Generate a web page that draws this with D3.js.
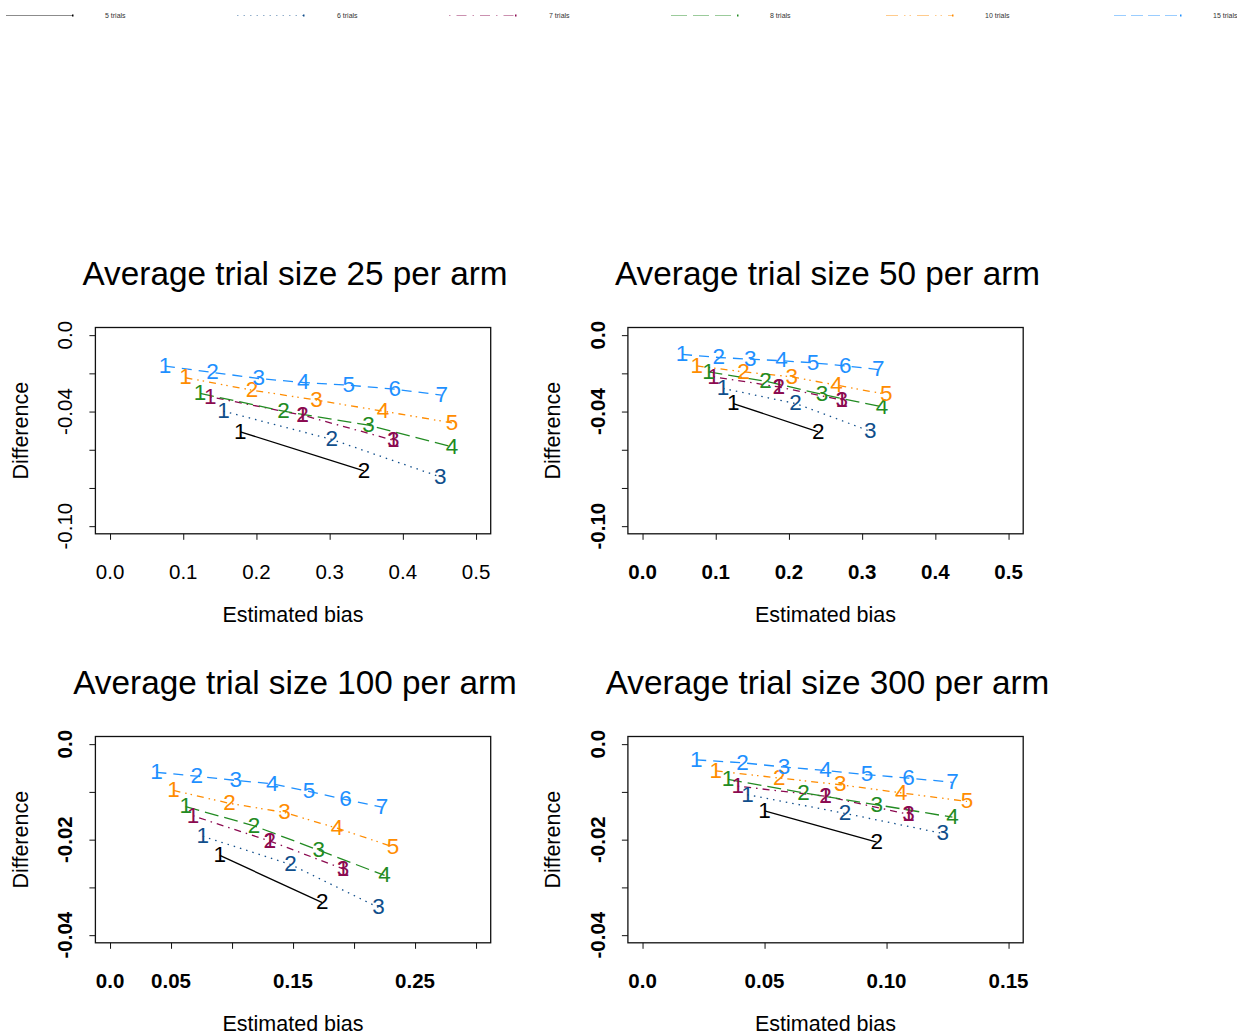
<!DOCTYPE html>
<html><head><meta charset="utf-8">
<script src="https://cdn.jsdelivr.net/npm/d3@7"></script>
<style>body{margin:0;background:#fff}svg{display:block}</style>
</head><body>
<svg id="chart" width="1237" height="1033"></svg>
<script>
// ---------- DATA ----------
const seriesNames = ["5 trials","6 trials","7 trials","8 trials","10 trials","15 trials"];
const panelTitles = ["Average trial size 25 per arm","Average trial size 50 per arm","Average trial size 100 per arm","Average trial size 300 per arm"];

// Estimated bias (x) and Difference (y) per series, per panel
const bias25 = [
  [0.178, 0.347],
  [0.155, 0.303, 0.451],
  [0.137, 0.263, 0.387],
  [0.123, 0.237, 0.353, 0.467],
  [0.103, 0.194, 0.282, 0.373, 0.467],
  [0.075, 0.140, 0.203, 0.264, 0.326, 0.389, 0.453]
];
const diff25 = [
  [-0.0506, -0.0710],
  [-0.0398, -0.0546, -0.0742],
  [-0.0323, -0.0419, -0.0550],
  [-0.0305, -0.0398, -0.0471, -0.0585],
  [-0.0223, -0.0288, -0.0340, -0.0398, -0.0459],
  [-0.0162, -0.0195, -0.0227, -0.0248, -0.0262, -0.0283, -0.0314]
];
const bias50 = [
  [0.124, 0.240],
  [0.110, 0.209, 0.311],
  [0.097, 0.186, 0.272],
  [0.090, 0.168, 0.245, 0.327],
  [0.074, 0.138, 0.204, 0.265, 0.333],
  [0.054, 0.104, 0.147, 0.190, 0.233, 0.277, 0.322]
];
const diff50 = [
  [-0.0358, -0.0506],
  [-0.0279, -0.0358, -0.0503],
  [-0.0218, -0.0271, -0.0340],
  [-0.0192, -0.0241, -0.0310, -0.0375],
  [-0.0161, -0.0192, -0.0218, -0.0262, -0.0310],
  [-0.0101, -0.0117, -0.0126, -0.0134, -0.0145, -0.0161, -0.0180]
];
const bias100 = [
  [0.090, 0.174],
  [0.076, 0.148, 0.220],
  [0.068, 0.131, 0.191],
  [0.062, 0.118, 0.171, 0.225],
  [0.052, 0.098, 0.143, 0.186, 0.232],
  [0.038, 0.071, 0.103, 0.133, 0.163, 0.193, 0.223]
];
const diff100 = [
  [-0.0233, -0.0332],
  [-0.0193, -0.0252, -0.0342],
  [-0.0150, -0.0203, -0.0261],
  [-0.0131, -0.0171, -0.0222, -0.0275],
  [-0.0097, -0.0124, -0.0143, -0.0176, -0.0215],
  [-0.0059, -0.0067, -0.0076, -0.0083, -0.0099, -0.0116, -0.0132]
];
const bias300 = [
  [0.050, 0.096],
  [0.043, 0.083, 0.123],
  [0.039, 0.075, 0.109],
  [0.035, 0.066, 0.096, 0.127],
  [0.030, 0.056, 0.081, 0.106, 0.133],
  [0.022, 0.041, 0.058, 0.075, 0.092, 0.109, 0.127]
];
const diff300 = [
  [-0.0140, -0.0205],
  [-0.0106, -0.0145, -0.0187],
  [-0.0088, -0.0109, -0.0147],
  [-0.0074, -0.0102, -0.0127, -0.0153],
  [-0.0056, -0.0071, -0.0085, -0.0102, -0.0120],
  [-0.0033, -0.0039, -0.0048, -0.0055, -0.0064, -0.0071, -0.0080]
];

// axis ticks
const xTicksA = [0, 0.1, 0.2, 0.3, 0.4, 0.5];
const xLabelsA = ["0.0","0.1","0.2","0.3","0.4","0.5"];
const xTicks100 = [0, 0.05, 0.10, 0.15, 0.20, 0.25, 0.30];
const xLabels100 = ["0.0","0.05","","0.15","","0.25",""];
const xTicks300 = [0, 0.05, 0.10, 0.15];
const xLabels300 = ["0.0","0.05","0.10","0.15"];
const yTicksA = [0, -0.02, -0.04, -0.06, -0.08, -0.10];
const yLabelsA = ["0.0","","-0.04","","","-0.10"];
const yTicksB = [0, -0.01, -0.02, -0.03, -0.04];
const yLabelsB = ["0.0","","-0.02","","-0.04"];

// ---------- STYLE ----------
const colors = ["#000000","#104E8B","#8B0A50","#228B22","#FF8C00","#1E90FF"];
const dashes = [null, "1.5,5", "1.5,5,7,5", "14,6", "7,5,1.5,4,1.5,5", "10,7"];
const legDashes = [null, "1.5,5", "1.5,6,10,6", "16,6", "12,6,1.5,4,1.5,6", "12,5"];
const FONT = "'Liberation Sans', Arial, Helvetica, sans-serif";

const svg = d3.select("#chart");

// ---------- LEGEND (top strip) ----------
const legLineX = [6, 237, 449, 671, 886, 1114];
const legTextX = [105, 337, 549, 770, 985, 1213];
const leg = svg.append("g");
seriesNames.forEach((name, i) => {
  leg.append("line").attr("x1", legLineX[i]).attr("x2", legLineX[i] + 67)
    .attr("y1", 15.5).attr("y2", 15.5)
    .attr("stroke", colors[i]).attr("stroke-opacity", 0.45).attr("stroke-width", 1)
    .attr("stroke-dasharray", legDashes[i]);
  leg.append("rect").attr("x", legLineX[i] + 66).attr("y", 14.5).attr("width", 1.5).attr("height", 2).attr("fill", colors[i]);
  leg.append("text").attr("x", legTextX[i]).attr("y", 18)
    .attr("font-family", FONT).attr("font-size", 7).attr("fill", "#333").text(name);
});

// ---------- PANELS ----------
const boxW = 395.3, boxH = 206.3;
const colX = [95.4, 627.9];
const rowY = [327.5, 736.5];

const panels = [
  {title: panelTitles[0], bias: bias25, diff: diff25, xd: [0, 0.5], yd: [-0.10, 0], xt: xTicksA, xl: xLabelsA, yt: yTicksA, yl: yLabelsA, c: 0, r: 0, bold: false},
  {title: panelTitles[1], bias: bias50, diff: diff50, xd: [0, 0.5], yd: [-0.10, 0], xt: xTicksA, xl: xLabelsA, yt: yTicksA, yl: yLabelsA, c: 1, r: 0, bold: true},
  {title: panelTitles[2], bias: bias100, diff: diff100, xd: [0, 0.3], yd: [-0.04, 0], xt: xTicks100, xl: xLabels100, yt: yTicksB, yl: yLabelsB, c: 0, r: 1, bold: true},
  {title: panelTitles[3], bias: bias300, diff: diff300, xd: [0, 0.15], yd: [-0.04, 0], xt: xTicks300, xl: xLabels300, yt: yTicksB, yl: yLabelsB, c: 1, r: 1, bold: true}
];

panels.forEach(p => {
  const L = colX[p.c], T = rowY[p.r];
  const xr = p.xd[1] - p.xd[0], yr = p.yd[1] - p.yd[0];
  const x = d3.scaleLinear().domain([p.xd[0] - 0.04 * xr, p.xd[1] + 0.04 * xr]).range([L, L + boxW]);
  const y = d3.scaleLinear().domain([p.yd[0] - 0.04 * yr, p.yd[1] + 0.04 * yr]).range([T + boxH, T]);
  const g = svg.append("g");

  // x axis ticks
  const xa = g.append("g").attr("transform", `translate(0,${T + boxH})`)
    .call(d3.axisBottom(x).tickValues(p.xt).tickFormat("").tickSize(6).tickSizeOuter(0));
  xa.select(".domain").remove();
  xa.selectAll("line").attr("stroke", "#111").attr("stroke-width", 1);
  // y axis ticks
  const ya = g.append("g").attr("transform", `translate(${L},0)`)
    .call(d3.axisLeft(y).tickValues(p.yt).tickFormat("").tickSize(6).tickSizeOuter(0));
  ya.select(".domain").remove();
  ya.selectAll("line").attr("stroke", "#111").attr("stroke-width", 1);

  // tick labels
  g.selectAll(".xl").data(p.xt).enter().append("text")
    .attr("x", d => x(d)).attr("y", T + boxH + 45)
    .attr("text-anchor", "middle").attr("font-family", FONT).attr("font-size", 20.5)
    .attr("font-weight", p.bold ? "bold" : "normal").attr("fill", "#000")
    .text((d, i) => p.xl[i]);
  g.selectAll(".yl").data(p.yt).enter().append("text")
    .attr("transform", d => `translate(${L - 23},${y(d)}) rotate(-90)`)
    .attr("text-anchor", "middle").attr("font-family", FONT).attr("font-size", 20.5)
    .attr("font-weight", p.bold ? "bold" : "normal").attr("fill", "#000")
    .text((d, i) => p.yl[i]);

  // box
  g.append("rect").attr("x", L).attr("y", T).attr("width", boxW).attr("height", boxH)
    .attr("fill", "none").attr("stroke", "#111").attr("stroke-width", 1.3);

  // axis titles
  g.append("text").attr("x", L + boxW / 2).attr("y", T + boxH + 88)
    .attr("text-anchor", "middle").attr("font-family", FONT).attr("font-size", 21.5).text("Estimated bias");
  g.append("text").attr("transform", `translate(${L - 67.5},${T + boxH / 2}) rotate(-90)`)
    .attr("text-anchor", "middle").attr("font-family", FONT).attr("font-size", 21.5).text("Difference");
  // title
  g.append("text").attr("x", L + boxW / 2 + 2).attr("y", T - 43)
    .attr("text-anchor", "middle").attr("font-family", FONT).attr("font-size", 33.3).text(p.title);

  // series lines
  const line = d3.line().x(d => x(d[0])).y(d => y(d[1]));
  p.bias.forEach((bx, s) => {
    const pts = bx.map((v, k) => [v, p.diff[s][k]]);
    g.append("path").attr("d", line(pts)).attr("fill", "none")
      .attr("stroke", colors[s]).attr("stroke-width", 1.3)
      .attr("stroke-dasharray", dashes[s]);
  });
  // point labels
  p.bias.forEach((bx, s) => {
    const pts = bx.map((v, k) => [v, p.diff[s][k], String(k + 1)]);
    // 7-trial series: an extra "1" overprinted at later points
    if (s === 2) pts.slice(1).forEach(q => pts.push([q[0], q[1], "1"]));
    g.selectAll(null).data(pts).enter().append("text")
      .attr("x", d => x(d[0])).attr("y", d => y(d[1])).attr("dy", "0.3em")
      .attr("text-anchor", "middle").attr("font-family", FONT).attr("font-size", 22.5)
      .attr("fill", colors[s]).text(d => d[2]);
  });
});
</script>
</body></html>
